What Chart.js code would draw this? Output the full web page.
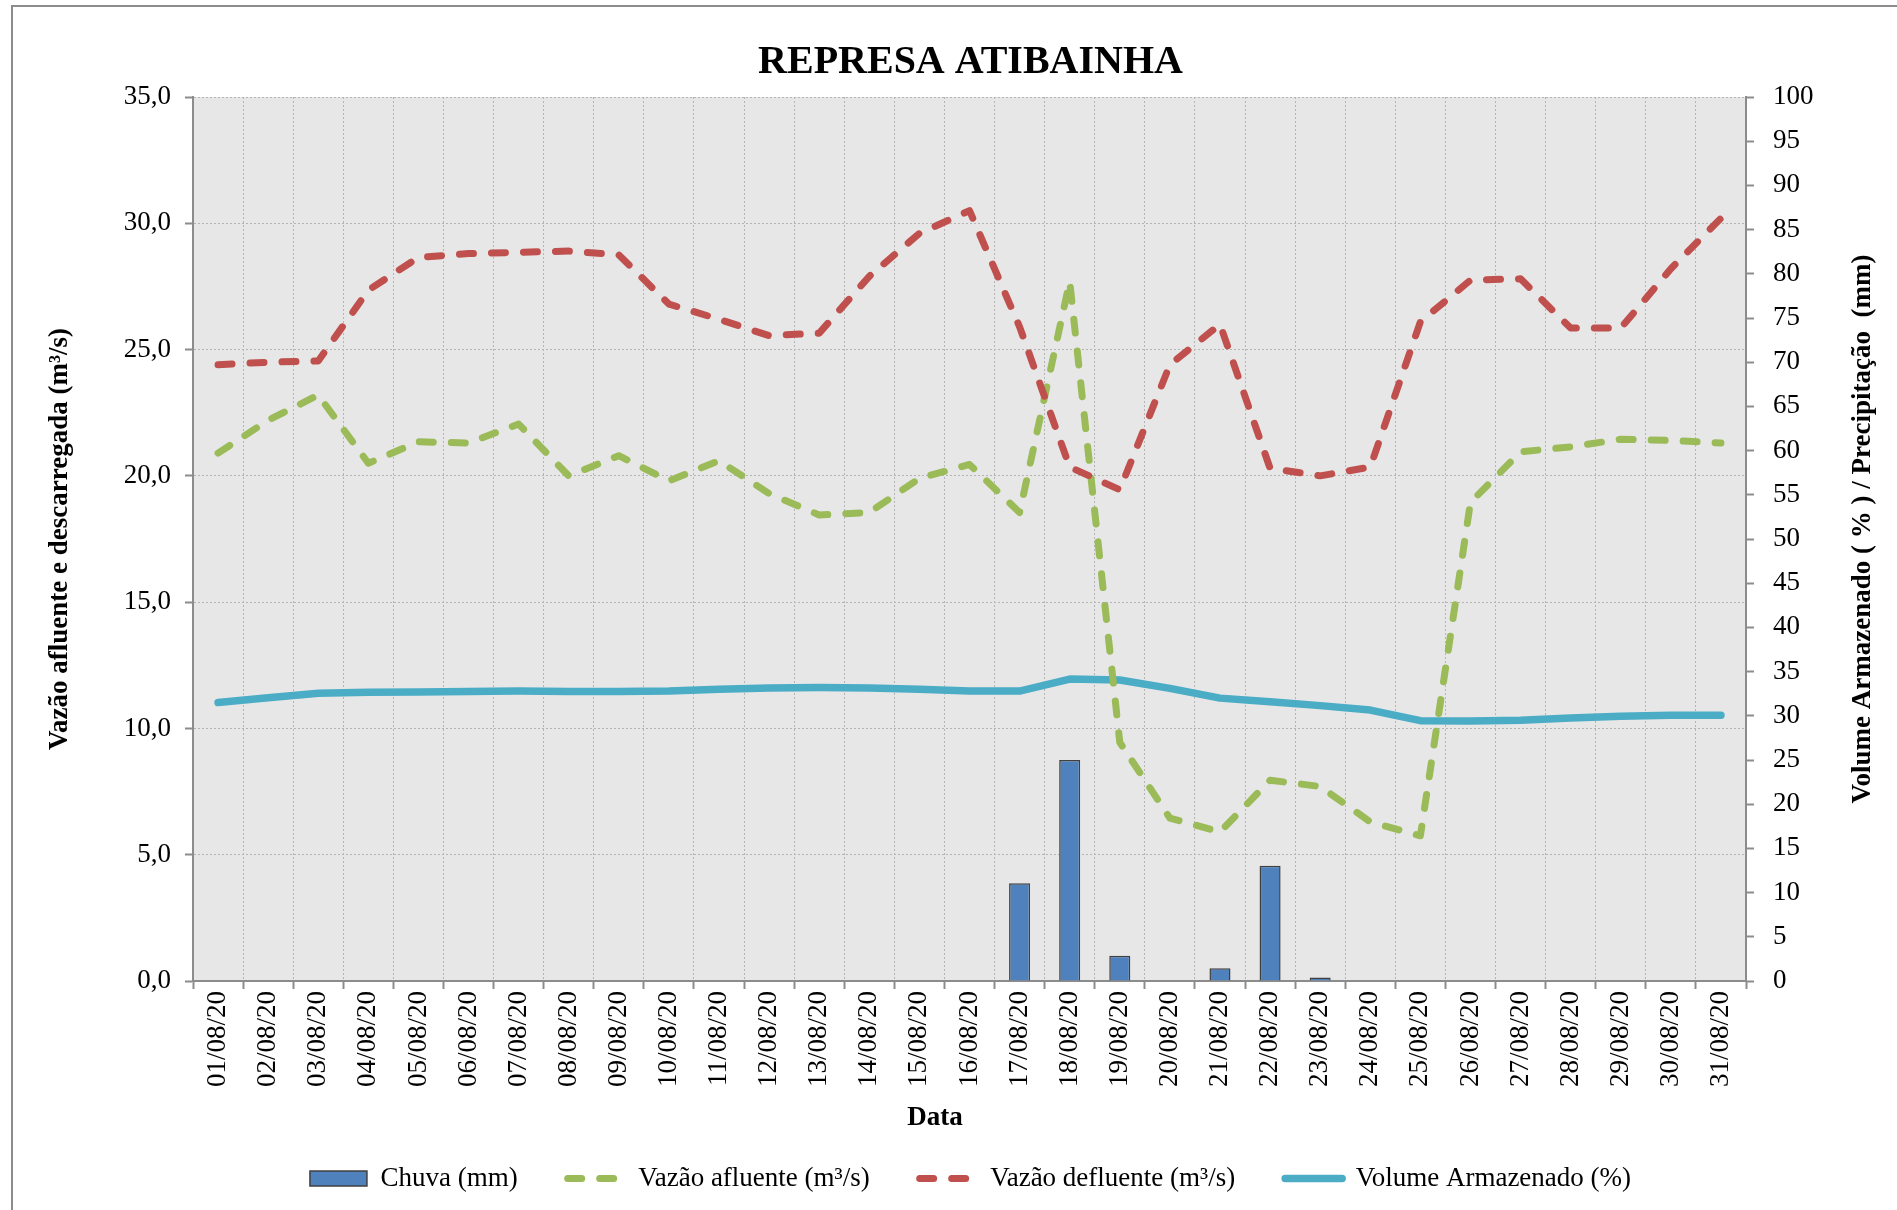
<!DOCTYPE html>
<html>
<head>
<meta charset="utf-8">
<title>Represa Atibainha</title>
<script src="https://cdn.jsdelivr.net/npm/chart.js@4.4.0/dist/chart.umd.min.js"></script>
<style>
  body { margin: 0; background: #fff; }
  canvas { display: block; }
</style>
</head>
<body>
<canvas id="chart" width="1897" height="1210"></canvas>
<script>
const dias = [
  "01/08/20", "02/08/20", "03/08/20", "04/08/20", "05/08/20", "06/08/20", "07/08/20", "08/08/20",
  "09/08/20", "10/08/20", "11/08/20", "12/08/20", "13/08/20", "14/08/20", "15/08/20", "16/08/20",
  "17/08/20", "18/08/20", "19/08/20", "20/08/20", "21/08/20", "22/08/20", "23/08/20", "24/08/20",
  "25/08/20", "26/08/20", "27/08/20", "28/08/20", "29/08/20", "30/08/20", "31/08/20"
];

// chuva em mm (eixo direito)
const chuva = [
  0, 0, 0, 0, 0, 0, 0, 0, 0, 0, 0, 0, 0, 0, 0, 0,
  11.05, 25.0, 2.85, 0, 1.45, 13.05, 0.4, 0, 0, 0, 0, 0, 0, 0, 0
];

// vazoes em m3/s (eixo esquerdo)
const vazaoAfluente = [
  20.9, 22.2, 23.2, 20.5, 21.35, 21.3, 22.05, 20.0, 20.8, 19.8, 20.6, 19.3, 18.45, 18.55, 19.9, 20.45,
  18.55, 27.7, 9.45, 6.45, 5.9, 7.95, 7.7, 6.3, 5.75, 18.95, 20.95, 21.15, 21.45, 21.4, 21.3
];
const vazaoDefluente = [
  24.4, 24.5, 24.55, 27.35, 28.65, 28.8, 28.85, 28.9, 28.75, 26.8, 26.2, 25.55, 25.65, 27.9, 29.6, 30.5,
  25.9, 20.35, 19.45, 24.4, 26.0, 20.3, 20.0, 20.35, 26.1, 27.75, 27.8, 25.85, 25.85, 28.2, 30.2
];

// volume armazenado em % (eixo direito)
const volumeArmazenado = [
  31.5, 32.05, 32.55, 32.65, 32.7, 32.75, 32.8, 32.75, 32.75, 32.8, 33.0, 33.15, 33.2, 33.15, 33.0, 32.8,
  32.8, 34.15, 34.05, 33.1, 32.0, 31.6, 31.15, 30.65, 29.45, 29.4, 29.5, 29.75, 29.95, 30.05, 30.05
];

const serif = "'Liberation Serif', 'Times New Roman', serif";
const tickFont = { family: serif, size: 27 };
const eixoCor = "#8C8C8C";
const gradeCor = "#B4B4B4";

// fundo cinza da area do grafico, moldura e titulos extras
const extras = {
  id: "extras",
  beforeDraw(chart) {
    const { ctx, chartArea: a } = chart;
    ctx.save();
    ctx.fillStyle = "#E7E7E7";
    ctx.fillRect(a.left, a.top, a.right - a.left, a.bottom - a.top);
    ctx.strokeStyle = eixoCor;
    ctx.lineWidth = 2;
    ctx.beginPath();
    ctx.moveTo(12, 1210);
    ctx.lineTo(12, 6);
    ctx.lineTo(1897, 6);
    ctx.stroke();
    ctx.restore();
  },
  afterDraw(chart) {
    const ctx = chart.ctx;
    ctx.save();
    ctx.fillStyle = "#000";
    ctx.font = "bold 27px " + serif;
    ctx.textAlign = "center";
    ctx.textBaseline = "middle";
    ctx.fillText("Data", 935, 1118);
    ctx.translate(1863, 529);
    ctx.rotate(-Math.PI / 2);
    ctx.fillText("Volume Armazenado ( % ) / Precipitação  (mm)", 0, 0);
    ctx.restore();
  }
};

new Chart(document.getElementById("chart"), {
  data: {
    labels: dias,
    datasets: [
      {
        type: "bar",
        label: "Chuva (mm)",
        data: chuva,
        yAxisID: "y1",
        backgroundColor: "#4F81BD",
        borderColor: "#404040",
        borderWidth: 1.5,
        barPercentage: 0.42,
        categoryPercentage: 1,
        pointStyle: "rect",
        order: 4
      },
      {
        type: "line",
        label: "Vazão afluente (m³/s)",
        data: vazaoAfluente,
        yAxisID: "y",
        borderColor: "#9BBB59",
        backgroundColor: "#9BBB59",
        borderWidth: 7,
        borderDash: [14, 18],
        borderCapStyle: "round",
        borderJoinStyle: "round",
        pointRadius: 0,
        pointStyle: "line",
        tension: 0,
        order: 2
      },
      {
        type: "line",
        label: "Vazão defluente (m³/s)",
        data: vazaoDefluente,
        yAxisID: "y",
        borderColor: "#C0504D",
        backgroundColor: "#C0504D",
        borderWidth: 7,
        borderDash: [14, 18],
        borderCapStyle: "round",
        borderJoinStyle: "round",
        pointRadius: 0,
        pointStyle: "line",
        tension: 0,
        order: 1
      },
      {
        type: "line",
        label: "Volume Armazenado (%)",
        data: volumeArmazenado,
        yAxisID: "y1",
        borderColor: "#4BACC6",
        backgroundColor: "#4BACC6",
        borderWidth: 7.5,
        borderCapStyle: "round",
        borderJoinStyle: "round",
        pointRadius: 0,
        pointStyle: "line",
        tension: 0,
        order: 3
      }
    ]
  },
  options: {
    responsive: false,
    animation: false,
    devicePixelRatio: 1,
    layout: { padding: { left: 44, right: 0, top: 0, bottom: 8 } },
    plugins: {
      title: {
        display: true,
        text: "REPRESA ATIBAINHA",
        color: "#000",
        font: { family: serif, size: 40, weight: "bold" },
        padding: { top: 39, bottom: 10 }
      },
      legend: {
        position: "bottom",
        labels: {
          usePointStyle: true,
          pointStyleWidth: 57,
          boxHeight: 15,
          padding: 50,
          color: "#000",
          font: { family: serif, size: 27 },
          sort: (a, b) => a.datasetIndex - b.datasetIndex,
          generateLabels(chart) {
            const itens = Chart.defaults.plugins.legend.labels.generateLabels(chart);
            itens.forEach((it) => {
              const ds = chart.data.datasets[it.datasetIndex];
              if (ds.type === "line") {
                it.lineDash = ds.borderDash || [];
                it.lineWidth = ds.borderWidth;
                it.lineCap = ds.borderCapStyle;
                it.strokeStyle = ds.borderColor;
              }
            });
            return itens;
          }
        }
      },
      tooltip: { enabled: false }
    },
    scales: {
      x: {
        offset: true,
        grid: { color: gradeCor, lineWidth: 1, offset: true, tickLength: 8, tickColor: eixoCor, tickWidth: 2 },
        border: { color: eixoCor, width: 2, dash: [2, 2] },
        ticks: { color: "#000", font: tickFont, minRotation: 90, maxRotation: 90, autoSkip: false, padding: 2 },
        afterFit: (s) => { s.height = 134; }
      },
      y: {
        position: "left",
        min: 0,
        max: 35,
        ticks: {
          stepSize: 5,
          color: "#000",
          font: tickFont,
          padding: 14,
          callback: (v) => v.toFixed(1).replace(".", ",")
        },
        grid: { color: gradeCor, lineWidth: 1, tickLength: 8, tickColor: eixoCor, tickWidth: 2 },
        border: { color: eixoCor, width: 2, dash: [2, 2] },
        title: {
          display: true,
          text: "Vazão afluente e descarregada (m³/s)",
          color: "#000",
          font: { family: serif, size: 27, weight: "bold" },
          padding: { top: 0, bottom: 0 }
        },
        afterFit: (s) => { s.width = 149; }
      },
      y1: {
        position: "right",
        min: 0,
        max: 100,
        ticks: { stepSize: 5, color: "#000", font: tickFont, padding: 19 },
        grid: { drawOnChartArea: false, tickLength: 8, tickColor: eixoCor, tickWidth: 2 },
        border: { color: eixoCor, width: 2 },
        afterFit: (s) => { s.width = 151; }
      }
    }
  },
  plugins: [extras]
});
</script>
</body>
</html>
